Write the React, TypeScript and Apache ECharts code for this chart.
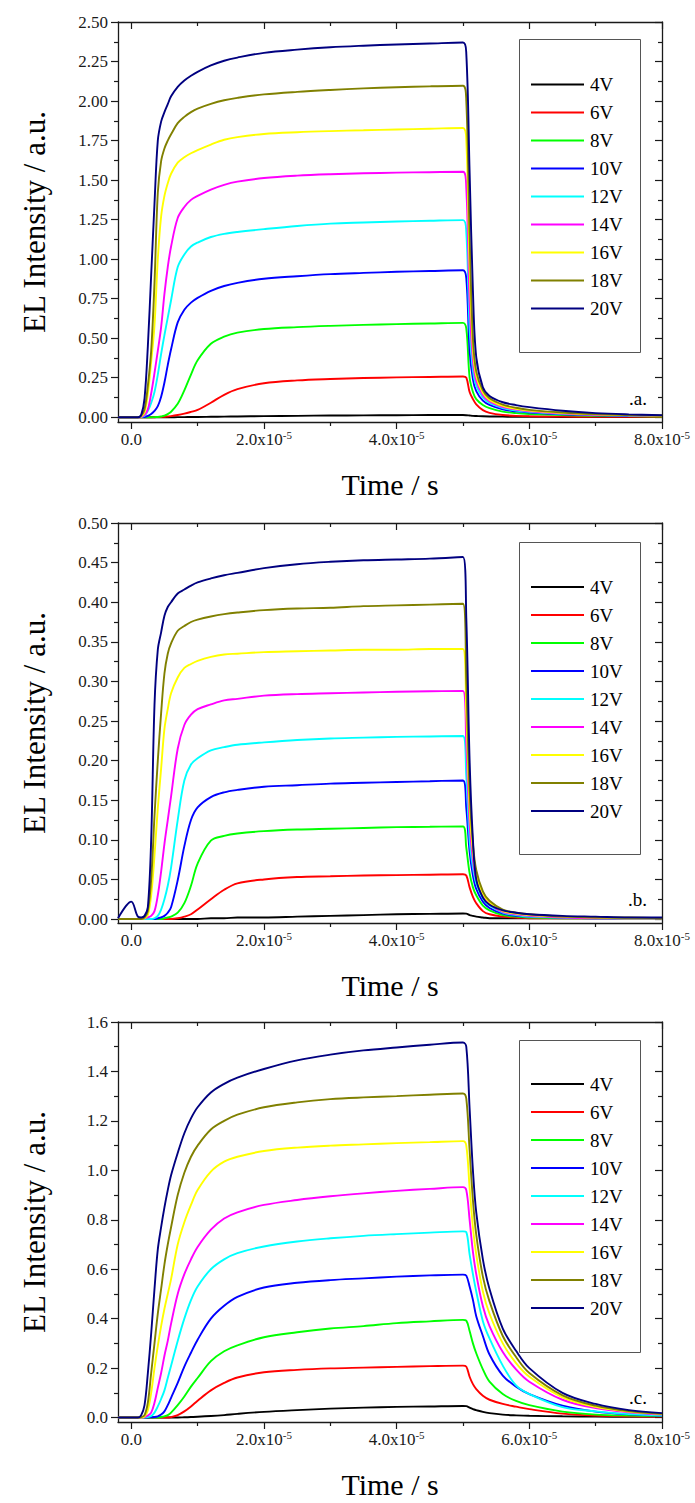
import React, { useEffect, useRef } from "react";
import * as echarts from "echarts";

// time axis in units of 1e-5 s
const TIME = [-0.2, 0, 0.1, 0.15, 0.2, 0.25, 0.3, 0.35, 0.4, 0.45, 0.5, 0.55, 0.6, 0.7, 0.8, 0.9, 1.0, 1.2, 1.4, 1.6, 2.0, 2.5, 3.0, 3.5, 4.0, 4.5, 5.0, 5.05, 5.1, 5.15, 5.2, 5.3, 5.4, 5.6, 5.8, 6.0, 6.5, 7.0, 7.5, 8.0];

const VOLTAGES = ["4V", "6V", "8V", "10V", "12V", "14V", "16V", "18V", "20V"];
const COLORS = ["#000000", "#ff0000", "#00ff00", "#0000ff", "#00ffff", "#ff00ff", "#ffff00", "#808000", "#000080"];

// panel (a)
const A04 = [0,0,0,0,0,0,0,0,0,0, 0,0,0,0.001,0.001,0.002,0.002,0.003,0.004,0.005, 0.007,0.009,0.011,0.012,0.013,0.014,0.014,0.013,0.011,0.009, 0.008,0.006,0.005,0.004,0.003,0.003,0.002,0.002,0.002,0.002];
const A06 = [0,0,0,0,0,0,0,0,0.001,0.002, 0.003,0.005,0.007,0.014,0.023,0.034,0.046,0.092,0.142,0.178, 0.215,0.233,0.242,0.248,0.252,0.255,0.258,0.25,0.16,0.115, 0.082,0.045,0.028,0.014,0.009,0.006,0.004,0.003,0.003,0.002];
const A08 = [0,0,0,0,0,0,0,0.001,0.002,0.005, 0.01,0.02,0.035,0.085,0.17,0.27,0.36,0.465,0.51,0.535, 0.558,0.57,0.578,0.584,0.589,0.593,0.597,0.56,0.25,0.16, 0.115,0.078,0.058,0.036,0.026,0.021,0.014,0.009,0.007,0.005];
const A10 = [0,0,0,0.001,0.002,0.008,0.02,0.04,0.07,0.13, 0.22,0.33,0.43,0.6,0.68,0.725,0.755,0.8,0.83,0.85, 0.876,0.892,0.905,0.913,0.92,0.925,0.93,0.88,0.42,0.24, 0.165,0.105,0.078,0.05,0.037,0.03,0.019,0.013,0.009,0.007];
const A12 = [0,0,0,0.002,0.01,0.04,0.09,0.16,0.27,0.4, 0.52,0.63,0.74,0.95,1.03,1.08,1.105,1.14,1.16,1.172, 1.19,1.21,1.225,1.232,1.238,1.243,1.247,1.17,0.56,0.3, 0.2,0.125,0.09,0.058,0.043,0.035,0.022,0.015,0.011,0.008];
const A14 = [0,0,0,0.003,0.015,0.05,0.15,0.28,0.42,0.57, 0.78,0.95,1.08,1.26,1.33,1.375,1.4,1.44,1.47,1.49, 1.513,1.528,1.537,1.543,1.547,1.55,1.553,1.45,0.72,0.36, 0.23,0.14,0.1,0.065,0.048,0.038,0.024,0.016,0.012,0.009];
const A16 = [0,0,0,0.005,0.03,0.15,0.35,0.58,1.0,1.27, 1.4,1.48,1.54,1.61,1.645,1.67,1.69,1.725,1.755,1.772, 1.792,1.803,1.81,1.815,1.82,1.825,1.83,1.75,0.95,0.43, 0.26,0.155,0.11,0.072,0.053,0.042,0.027,0.018,0.013,0.01];
const A18 = [0,0,0,0.01,0.05,0.2,0.42,0.85,1.42,1.62, 1.7,1.75,1.79,1.86,1.9,1.93,1.952,1.982,2.005,2.02, 2.042,2.058,2.07,2.08,2.087,2.093,2.097,2.0,1.15,0.5, 0.29,0.17,0.12,0.08,0.06,0.047,0.03,0.02,0.014,0.011];
const A20 = [0,0,0,0.015,0.12,0.45,0.9,1.35,1.75,1.87, 1.93,1.98,2.03,2.09,2.13,2.16,2.185,2.225,2.255,2.275, 2.305,2.325,2.34,2.35,2.358,2.364,2.37,2.3,1.55,0.8, 0.38,0.19,0.135,0.095,0.077,0.064,0.041,0.026,0.018,0.013];

// panel (b)
const B04 = [0,0,0,0,0,0,0,0,0,0, 0,0,0,0,0,0,0,0.001,0.001,0.002, 0.002,0.003,0.004,0.005,0.006,0.0065,0.007,0.0068,0.005,0.004, 0.003,0.002,0.001,0.001,0.001,0.001,0.001,0.001,0.001,0.001];
const B06 = [0,0,0,0,0,0,0,0,0,0, 0,0,0,0.001,0.003,0.006,0.012,0.025,0.037,0.045, 0.05,0.053,0.054,0.055,0.0555,0.056,0.0565,0.055,0.04,0.028, 0.02,0.01,0.006,0.003,0.002,0.001,0.001,0.001,0.001,0.001];
const B08 = [0,0,0,0,0,0,0,0,0,0, 0.001,0.002,0.003,0.008,0.02,0.042,0.07,0.099,0.105,0.108, 0.111,0.113,0.114,0.115,0.116,0.1165,0.117,0.09,0.058,0.04, 0.03,0.017,0.011,0.005,0.003,0.002,0.001,0.001,0.001,0.001];
const B10 = [0,0,0,0,0,0,0,0,0.001,0.002, 0.004,0.008,0.015,0.049,0.092,0.125,0.141,0.154,0.16,0.163, 0.167,0.169,0.171,0.172,0.173,0.174,0.175,0.14,0.085,0.055, 0.038,0.022,0.014,0.007,0.004,0.003,0.002,0.001,0.001,0.001];
const B12 = [0,0,0,0,0,0,0,0.001,0.004,0.012, 0.025,0.042,0.065,0.125,0.175,0.195,0.203,0.213,0.217,0.22, 0.223,0.226,0.228,0.229,0.23,0.2305,0.231,0.18,0.1,0.065, 0.045,0.026,0.017,0.008,0.005,0.003,0.002,0.001,0.001,0.001];
const B14 = [0,0,0,0,0.001,0.002,0.004,0.01,0.03,0.06, 0.095,0.125,0.155,0.215,0.245,0.258,0.265,0.271,0.276,0.278, 0.282,0.284,0.285,0.286,0.287,0.2875,0.288,0.22,0.12,0.075, 0.05,0.029,0.019,0.009,0.006,0.004,0.002,0.001,0.001,0.001];
const B16 = [0,0,0,0,0.001,0.005,0.03,0.08,0.14,0.19, 0.24,0.265,0.285,0.305,0.317,0.322,0.326,0.331,0.334,0.335, 0.337,0.338,0.339,0.34,0.34,0.341,0.341,0.26,0.14,0.085, 0.056,0.032,0.021,0.01,0.007,0.005,0.003,0.002,0.001,0.001];
const B18 = [0,0,0,0,0.002,0.01,0.05,0.13,0.2,0.26, 0.31,0.335,0.348,0.364,0.37,0.375,0.378,0.382,0.385,0.387, 0.39,0.392,0.393,0.395,0.396,0.397,0.398,0.3,0.16,0.095, 0.062,0.035,0.023,0.012,0.008,0.006,0.003,0.002,0.002,0.001];
const B20 = [0.001,0.022,0.003,0.002,0.004,0.015,0.1,0.27,0.34,0.362, 0.383,0.394,0.4,0.411,0.416,0.421,0.425,0.43,0.434,0.437, 0.443,0.448,0.451,0.453,0.454,0.455,0.457,0.38,0.2,0.1, 0.05,0.027,0.018,0.011,0.008,0.006,0.004,0.003,0.002,0.002];

// panel (c)
const C04 = [0,0,0,0,0,0,0,0,0,0, 0,0,0,0,0.001,0.002,0.003,0.006,0.01,0.015, 0.023,0.03,0.036,0.04,0.043,0.045,0.047,0.046,0.04,0.034, 0.03,0.023,0.018,0.012,0.009,0.007,0.005,0.004,0.003,0.003];
const C06 = [0,0,0,0,0,0,0,0,0,0, 0,0,0.002,0.01,0.025,0.045,0.068,0.11,0.14,0.162, 0.183,0.193,0.199,0.202,0.205,0.208,0.21,0.206,0.165,0.135, 0.115,0.088,0.072,0.055,0.044,0.034,0.016,0.008,0.005,0.004];
const C08 = [0,0,0,0,0,0,0,0,0,0.002, 0.005,0.01,0.02,0.05,0.085,0.125,0.16,0.228,0.268,0.292, 0.325,0.345,0.36,0.37,0.382,0.389,0.395,0.392,0.35,0.3, 0.26,0.195,0.145,0.095,0.067,0.05,0.024,0.012,0.008,0.006];
const C10 = [0,0,0,0,0,0,0.001,0.002,0.005,0.012, 0.025,0.05,0.08,0.14,0.206,0.262,0.315,0.4,0.452,0.488, 0.526,0.545,0.556,0.563,0.57,0.575,0.578,0.574,0.53,0.476, 0.41,0.33,0.255,0.17,0.125,0.095,0.048,0.024,0.013,0.008];
const C12 = [0,0,0,0,0,0.002,0.006,0.02,0.045,0.075, 0.11,0.16,0.21,0.31,0.4,0.475,0.53,0.6,0.64,0.665, 0.692,0.712,0.725,0.735,0.742,0.748,0.753,0.75,0.66,0.58, 0.51,0.39,0.32,0.21,0.13,0.095,0.042,0.025,0.014,0.008];
const C14 = [0,0,0,0,0.002,0.008,0.02,0.06,0.12,0.18, 0.25,0.31,0.38,0.5,0.58,0.64,0.69,0.76,0.805,0.83, 0.86,0.88,0.895,0.907,0.917,0.925,0.932,0.92,0.8,0.67, 0.58,0.45,0.37,0.265,0.195,0.145,0.072,0.038,0.021,0.012];
const C16 = [0,0,0,0,0.005,0.03,0.1,0.2,0.29,0.37, 0.44,0.5,0.56,0.7,0.79,0.86,0.92,0.995,1.035,1.055, 1.078,1.092,1.1,1.105,1.11,1.114,1.118,1.1,0.93,0.77, 0.66,0.51,0.42,0.3,0.22,0.165,0.082,0.043,0.024,0.014];
const C18 = [0,0,0,0.002,0.01,0.06,0.18,0.3,0.42,0.52, 0.62,0.7,0.77,0.9,0.99,1.055,1.1,1.165,1.2,1.225, 1.255,1.275,1.288,1.295,1.3,1.306,1.311,1.29,1.08,0.88, 0.74,0.57,0.47,0.33,0.245,0.18,0.09,0.048,0.026,0.015];
const C20 = [0,0,0,0.01,0.05,0.18,0.34,0.52,0.68,0.77, 0.85,0.92,0.98,1.07,1.15,1.21,1.255,1.315,1.35,1.375, 1.41,1.445,1.468,1.485,1.497,1.508,1.517,1.5,1.25,1.0, 0.83,0.64,0.52,0.36,0.27,0.2,0.1,0.055,0.03,0.018];

// tick labels
const X_TICKS = [0, 2, 4, 6, 8];
const X_MINOR = [1, 3, 5, 7];
const Y_TICKS_A = [0, 0.25, 0.5, 0.75, 1.0, 1.25, 1.5, 1.75, 2.0, 2.25, 2.5];
const Y_TICKS_B = [0, 0.05, 0.1, 0.15, 0.2, 0.25, 0.3, 0.35, 0.4, 0.45, 0.5];
const Y_TICKS_C = [0, 0.2, 0.4, 0.6, 0.8, 1.0, 1.2, 1.4, 1.6];

const FONT = "Liberation Serif";
const INK = "#1a1a1a";

function minors(ticks: number[]) {
  const out: number[] = [];
  for (let i = 0; i < ticks.length - 1; i++) out.push((ticks[i] + ticks[i + 1]) / 2);
  return out;
}

type PanelCfg = {
  top: number;
  yMin: number;
  yMax: number;
  yTicks: number[];
  decimals: number;
  values: number[][];
  legendCenter: number;
  boxTop: number;
  boxBottom: number;
  tag: string;
  tagY: number;
};

const PANELS: PanelCfg[] = [
  { top: 22, yMin: -0.03, yMax: 2.5, yTicks: Y_TICKS_A, decimals: 2, values: [A04, A06, A08, A10, A12, A14, A16, A18, A20], legendCenter: 84.5, boxTop: 39, boxBottom: 352, tag: ".a.", tagY: 398 },
  { top: 523, yMin: -0.005, yMax: 0.5, yTicks: Y_TICKS_B, decimals: 2, values: [B04, B06, B08, B10, B12, B14, B16, B18, B20], legendCenter: 587, boxTop: 542, boxBottom: 854, tag: ".b.", tagY: 899 },
  { top: 1022, yMin: -0.018, yMax: 1.6, yTicks: Y_TICKS_C, decimals: 1, values: [C04, C06, C08, C10, C12, C14, C16, C18, C20], legendCenter: 1084, boxTop: 1040, boxBottom: 1352, tag: ".c.", tagY: 1397 },
];

const GRID_LEFT = 118;
const GRID_W = 544;
const GRID_H = 400;

function buildOption() {
  const grid: any[] = [];
  const xAxis: any[] = [];
  const yAxis: any[] = [];
  const series: any[] = [];
  const legend: any[] = [];
  const graphic: any[] = [];
  const lineStyle = { color: INK, width: 1.3 };
  const tickStyle = { color: INK, width: 1.2 };

  PANELS.forEach((p, g) => {
    grid.push({ left: GRID_LEFT, top: p.top, width: GRID_W, height: GRID_H, containLabel: false, outerBoundsMode: "none" });

    const xc = { gridIndex: g, type: "value", min: -0.2, max: 8, splitLine: { show: false } };
    xAxis.push({
      ...xc,
      position: "bottom",
      axisLine: { show: true, onZero: false, lineStyle },
      axisTick: { show: true, customValues: X_TICKS, length: 7, lineStyle: tickStyle },
      axisLabel: {
        show: true,
        customValues: X_TICKS,
        margin: 7,
        fontFamily: FONT,
        formatter: (v: number) => (v === 0 ? "{m|0.0}" : `{m|${v.toFixed(1)}x10}{s|-5}`),
        rich: {
          m: { fontSize: 17, fontFamily: FONT, color: INK, lineHeight: 20 },
          s: { fontSize: 11, fontFamily: FONT, color: INK, verticalAlign: "top", lineHeight: 11 },
        },
      },
      name: "Time / s",
      nameLocation: "middle",
      nameGap: 47,
      nameTextStyle: { fontSize: 30, fontFamily: FONT, color: "#000" },
    });
    xAxis.push({ ...xc, position: "bottom", axisLine: { show: false, onZero: false }, axisTick: { show: true, customValues: X_MINOR, length: 4, lineStyle: tickStyle }, axisLabel: { show: false } });
    xAxis.push({ ...xc, position: "top", axisLine: { show: true, onZero: false, lineStyle }, axisTick: { show: true, inside: true, customValues: X_TICKS, length: 7, lineStyle: tickStyle }, axisLabel: { show: false } });
    xAxis.push({ ...xc, position: "top", axisLine: { show: false, onZero: false }, axisTick: { show: true, inside: true, customValues: X_MINOR, length: 4, lineStyle: tickStyle }, axisLabel: { show: false } });

    const yc = { gridIndex: g, type: "value", min: p.yMin, max: p.yMax, splitLine: { show: false } };
    const yMinor = minors(p.yTicks);
    yAxis.push({
      ...yc,
      position: "left",
      axisLine: { show: true, onZero: false, lineStyle },
      axisTick: { show: true, customValues: p.yTicks, length: 7, lineStyle: tickStyle },
      axisLabel: {
        show: true,
        customValues: p.yTicks,
        margin: 10,
        formatter: (v: number) => v.toFixed(p.decimals),
        fontSize: 17,
        fontFamily: FONT,
        color: INK,
      },
      name: "EL Intensity / a.u.",
      nameLocation: "middle",
      nameGap: 68,
      nameTextStyle: { fontSize: 31, fontFamily: FONT, color: "#000" },
    });
    yAxis.push({ ...yc, position: "left", axisLine: { show: false, onZero: false }, axisTick: { show: true, customValues: yMinor, length: 4, lineStyle: tickStyle }, axisLabel: { show: false } });
    yAxis.push({ ...yc, position: "right", axisLine: { show: true, onZero: false, lineStyle }, axisTick: { show: true, inside: true, customValues: p.yTicks, length: 7, lineStyle: tickStyle }, axisLabel: { show: false } });
    yAxis.push({ ...yc, position: "right", axisLine: { show: false, onZero: false }, axisTick: { show: true, inside: true, customValues: yMinor, length: 4, lineStyle: tickStyle }, axisLabel: { show: false } });

    p.values.forEach((vals, i) => {
      series.push({
        type: "line",
        name: VOLTAGES[i],
        xAxisIndex: 4 * g,
        yAxisIndex: 4 * g,
        data: TIME.map((t, k) => [t, vals[k]]),
        symbol: "none",
        smooth: 0.35,
        color: COLORS[i],
        lineStyle: { width: 1.9, color: COLORS[i] },
        z: 2 + i,
      });
    });

    legend.push({
      orient: "vertical",
      left: 531,
      top: p.legendCenter - 10,
      padding: 0,
      itemWidth: 53,
      itemHeight: 2,
      itemGap: 8,
      icon: "rect",
      selectedMode: false,
      data: VOLTAGES,
      textStyle: { fontSize: 19, lineHeight: 20, fontFamily: FONT, color: "#000", padding: [0, 0, 0, 1] },
    });

    graphic.push({
      type: "rect",
      shape: { x: 519.5, y: p.boxTop + 0.5, width: 121, height: p.boxBottom - p.boxTop },
      style: { fill: "none", stroke: "#555", lineWidth: 1 },
      silent: true,
      z: 10,
    });
    graphic.push({
      type: "text",
      x: 647,
      y: p.tagY,
      style: { text: p.tag, fontSize: 19, fontFamily: FONT, fill: "#000", align: "right", verticalAlign: "middle" },
      silent: true,
      z: 10,
    });
  });

  return { animation: false, backgroundColor: "#ffffff", textStyle: { fontFamily: FONT }, grid, xAxis, yAxis, series, legend, graphic };
}

export default function App() {
  const ref = useRef<HTMLDivElement>(null);
  useEffect(() => {
    if (!ref.current) return;
    const chart = echarts.init(ref.current, null, { renderer: "svg" });
    chart.setOption(buildOption() as any);
    return () => chart.dispose();
  }, []);
  return <div ref={ref} style={{ position: "absolute", left: 0, top: 0, width: 695, height: 1503, background: "#fff" }} />;
}
